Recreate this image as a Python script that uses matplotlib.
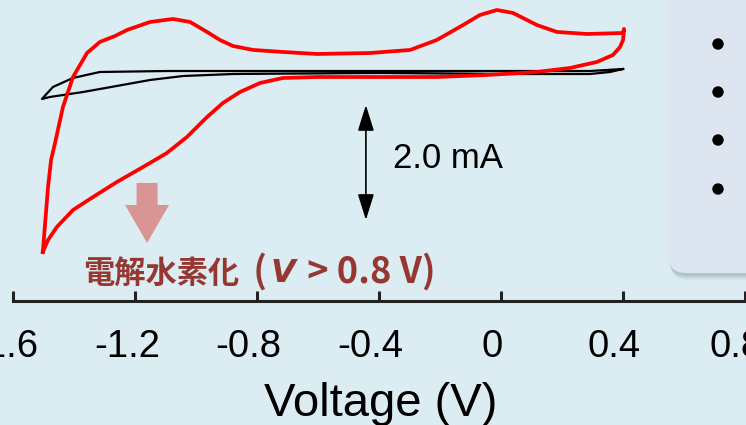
import numpy as np
import matplotlib
matplotlib.use('Agg')
import matplotlib.pyplot as plt
from matplotlib.patches import FancyArrow, FancyBboxPatch, Circle
import matplotlib.transforms as mtrans

# CV data (V, mA)
red_v = [-1.503, -1.496, -1.486, -1.476, -1.463, -1.437, -1.404, -1.358, -1.316,
         -1.266, -1.227, -1.151, -1.076, -1.020, -0.964, -0.922, -0.879, -0.813,
         -0.715, -0.603, -0.430, -0.298, -0.210, -0.124, -0.069, -0.013, 0.040,
         0.118, 0.184, 0.283, 0.401, 0.404, 0.401, 0.391, 0.368, 0.315, 0.227,
         0.118, -0.046, -0.210, -0.430, -0.603, -0.715, -0.790, -0.856, -0.912,
         -0.964, -1.030, -1.096, -1.174, -1.260, -1.338, -1.404, -1.457, -1.486,
         -1.503]
red_i = [-3.130, -2.661, -2.000, -1.530, -1.235, -0.609, -0.087, 0.330, 0.522,
         0.626, 0.730, 0.870, 0.922, 0.870, 0.696, 0.557, 0.452, 0.383,
         0.348, 0.313, 0.330, 0.383, 0.557, 0.817, 0.991, 1.078, 1.026,
         0.817, 0.696, 0.661, 0.678, 0.748, 0.557, 0.435, 0.296, 0.174, 0.070,
         0.000, -0.052, -0.087, -0.087, -0.087, -0.104, -0.191, -0.348, -0.539,
         -0.783, -1.130, -1.409, -1.652, -1.913, -2.174, -2.400, -2.696, -2.922,
         -3.130]

black_v = [0.401, 0.292, -0.003, -0.397, -0.823, -1.096, -1.316, -1.404, -1.470,
           -1.506, -1.480, -1.371, -1.260, -1.151, -1.043, -0.879, -0.397, -0.003,
           0.292, 0.358, 0.401]
black_i = [0.052, 0.017, 0.017, 0.017, 0.017, 0.017, 0.000, -0.104, -0.261,
           -0.470, -0.435, -0.348, -0.243, -0.139, -0.070, -0.035, -0.017, -0.035,
           -0.035, 0.000, 0.052]

tick_vals = [-1.6, -1.2, -0.8, -0.4, 0, 0.4, 0.8]
tick_labels = ['-1.6', '-1.2', '-0.8', '-0.4', '0', '0.4', '0.8']

bullet_y = [3.81, 3.33, 2.85, 2.36]   # inches from bottom

bg = '#dbedf3'
sans = ['Liberation Sans', 'DejaVu Sans']
jp = ['Noto Sans CJK JP', 'DejaVu Sans']

fig = plt.figure(figsize=(7.46, 4.25), dpi=100)
fig.patch.set_facecolor(bg)
ax = fig.add_axes([0, 124 / 425, 1, 301 / 425])
ax.set_facecolor('none')
ax.set_xlim(-1.6436, 0.8043)
ax.set_ylim(-3.983, 1.252)

ax.plot(black_v, black_i, color='black', lw=1.6, solid_joinstyle='round')
ax.plot(red_v, red_i, color='#ff0000', lw=2.7, solid_joinstyle='round')

for s in ['left', 'top', 'right']:
    ax.spines[s].set_visible(False)
ax.spines['bottom'].set_bounds(-1.6, 0.9)
ax.spines['bottom'].set_linewidth(2.2)
ax.spines['bottom'].set_color('#222222')
ax.set_yticks([])
ax.set_xticks(tick_vals)
ax.set_xticklabels(tick_labels)
ax.tick_params(axis='x', direction='in', length=7.5, width=2.2, color='#222222',
               pad=20, labelsize=27.5)
shift = mtrans.ScaledTranslation(-0.085, 0, fig.dpi_scale_trans)
for lab in ax.get_xticklabels():
    lab.set_fontfamily(sans)
    lab.set_transform(lab.get_transform() + shift)

# 2.0 mA scale arrow
ax.annotate('', xy=(-0.443, -0.574), xytext=(-0.443, -2.574),
            arrowprops=dict(arrowstyle='<|-|>,head_length=0.8,head_width=0.25',
                            color='black', lw=1.2, shrinkA=0, shrinkB=0,
                            mutation_scale=20))
ax.text(-0.354, -1.504, '2.0 mA', fontsize=25, va='center', ha='left',
        family=sans)

# pink arrow
ax.add_patch(FancyArrow(-1.161, -1.930, 0, -1.044, width=0.069, head_width=0.144,
                        head_length=0.661, length_includes_head=True,
                        color='#d99594', lw=0))

# japanese label, pieces laid out one after another
jcol = '#963732'
x0, y0 = -1.371, -3.66
fig.canvas.draw()
r = fig.canvas.get_renderer()
px, base = ax.transData.transform((x0, y0))
pieces = [('電解水素化', jp, 'normal', 22.5, 6),
          (' (', jp, 'normal', 26, 3),
          ('V', ['DejaVu Sans'], 'italic', 23, 4),
          (' > 0.8 V)', jp, 'normal', 26, 0)]
for txt, fam, sty, fs, gap in pieces:
    t = ax.text(px, base, txt, fontsize=fs, family=fam, weight='bold', style=sty,
                color=jcol, va='baseline', ha='left', transform=None)
    px = t.get_window_extent(r).x1 + gap

# right panel with shadow
for k, a in [(0.07, 0.10), (0.05, 0.14), (0.03, 0.18)]:
    fig.add_artist(FancyBboxPatch((6.68 + k / 3, 1.52 - k), 1.2, 3.2,
                                  boxstyle='round,pad=0,rounding_size=0.18',
                                  transform=fig.dpi_scale_trans,
                                  facecolor='#6a7a8c', edgecolor='none', alpha=a))
fig.add_artist(FancyBboxPatch((6.68, 1.52), 1.2, 3.2,
                              boxstyle='round,pad=0,rounding_size=0.18',
                              transform=fig.dpi_scale_trans,
                              facecolor='#dce5f0', edgecolor='none'))
for y in bullet_y:
    fig.add_artist(Circle((7.18, y), 0.05, transform=fig.dpi_scale_trans,
                          color='black'))

fig.text(381 / 746, 43 / 425, 'Voltage (V)', ha='center', va='top', fontsize=34,
         family=sans)

fig.savefig('out.png', dpi=100, facecolor=bg)
